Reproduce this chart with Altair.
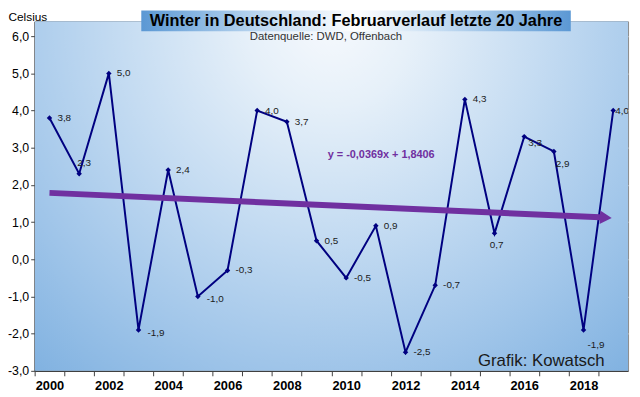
import altair as alt
import pandas as pd

# ---- data ----
years = list(range(2000, 2020))
values = [3.8, 2.3, 5.0, -1.9, 2.4, -1.0, -0.3, 4.0, 3.7, 0.5,
          -0.5, 0.9, -2.5, -0.7, 4.3, 0.7, 3.3, 2.9, -1.9, 4.0]
y_ticks = [-3, -2, -1, 0, 1, 2, 3, 4, 5, 6]
title_text = "Winter in Deutschland: Februarverlauf letzte 20 Jahre"
source_text = "Datenquelle: DWD, Offenbach"
credit_text = "Grafik: Kowatsch"
equation_text = "y = -0,0369x + 1,8406"
y_title = "Celsius"

df = pd.DataFrame({"year": years, "value": values})

W, H = 601, 354
FONT = "Liberation Sans, Arial, sans-serif"
X_DOM = [1999.5, 2019.5]
Y_DOM = [-3, 6.4]
FMT = "replace(replace(format({v}, '.1f'), '.', ','), '\u2212', '-')"

xs = alt.Scale(domain=X_DOM, nice=False, zero=False)
ys = alt.Scale(domain=Y_DOM, nice=False, zero=False)

X_ENC = alt.X("year:Q", scale=xs, axis=alt.Axis(
    values=years, title=None, grid=False,
    labelExpr="datum.value % 2 == 0 ? datum.value : ''",
    tickOffset=-W / 40.0, labelOffset=W / 40.0, tickSize=5, tickColor="#404040",
    domainColor="#404040", domainWidth=1.5, labelOverlap=False, labelFlush=False,
    labelFont=FONT, labelFontSize=13, labelFontWeight="bold",
    labelColor="#000000", labelPadding=4))
Y_ENC = alt.Y("value:Q", scale=ys, axis=alt.Axis(
    values=y_ticks, tickCount=10, title=y_title, titleAngle=0, titleAlign="left",
    titleBaseline="top", titleX=-27, titleY=-10,
    titleFont=FONT, titleFontSize=12, titleFontWeight="normal", titleColor="#000000",
    labelExpr=FMT.format(v="datum.value"), labelOverlap=False, labelFlush=False,
    labelFont=FONT, labelFontSize=12.5, labelColor="#000000", labelPadding=2,
    tickSize=4, tickColor="#404040", domainColor="#404040", domainWidth=1.5,
    grid=True, gridColor="#dcdcdc", gridOpacity=0.85, gridWidth=1.2))

one = pd.DataFrame({"a": [0]})

# background gradient of plot area
bg_grad = alt.RadialGradient(
    gradient="radial", x1=0.5, y1=0.0, r1=0.0, x2=0.5, y2=0.0, r2=1.0,
    stops=[
        alt.GradientStop(offset=0.0, color="#f6f9fd"),
        alt.GradientStop(offset=0.08, color="#e6f0f9"),
        alt.GradientStop(offset=0.2, color="#c5dcf2"),
        alt.GradientStop(offset=0.32, color="#a3c7ea"),
        alt.GradientStop(offset=0.42, color="#86b5e2"),
        alt.GradientStop(offset=0.5, color="#6fa6db"),
        alt.GradientStop(offset=1.0, color="#68a0d8"),
    ],
)
background = alt.Chart(one).mark_rect(fill=bg_grad, clip=True).encode(
    x=alt.value(0), x2=alt.value(W), y=alt.value(0), y2=alt.value(H * 3)
)

base = alt.Chart(df).encode(x=X_ENC, y=Y_ENC)

line = base.mark_line(color="#000080", strokeWidth=2)
pts = base.mark_point(shape="diamond", filled=True, size=30, color="#000080", opacity=1)

trend = alt.Chart(df).transform_regression(
    "year", "value", extent=[2000, 2018.75]
).mark_line(color="#7030A0", strokeWidth=6, strokeCap="butt").encode(x=X_ENC, y=Y_ENC)
arrow = alt.Chart(df).transform_regression(
    "year", "value", extent=[2000, 2018.75]
).transform_filter("datum.year > 2018").mark_point(
    shape="triangle-right", filled=True, size=190, color="#7030A0", opacity=1, angle=3
).encode(x=X_ENC, y=Y_ENC)

# value labels
shifts = {
    (8, 0): None,
    (-2, -11): [2001],
    (9, 3): [2003, 2005],
    (2, 12): [2015],
    (4, 7): [2016],
    (2, 13): [2017],
    (4, 15): [2018],
    (2, 0): [2019],
}
special = [y for v in shifts.values() if v for y in v]
label_layers = []
for (dx, dy), yrs in shifts.items():
    c = base.transform_calculate(lbl=FMT.format(v="datum.value"))
    if yrs is None:
        c = c.transform_filter(alt.FieldOneOfPredicate(field="year", oneOf=[y for y in years if y not in special]))
    else:
        c = c.transform_filter(alt.FieldOneOfPredicate(field="year", oneOf=yrs))
    label_layers.append(c.mark_text(
        align="center" if yrs == [2015] else "left", baseline="middle", dx=dx, dy=dy,
        font=FONT, fontSize=10, color="#1a1a1a", clip=True
    ).encode(text="lbl:N"))

# title box and annotations
title_grad = alt.LinearGradient(
    gradient="linear", x1=0, y1=0, x2=1, y2=0,
    stops=[
        alt.GradientStop(offset=0.0, color="#5b98d4"),
        alt.GradientStop(offset=0.3, color="#c4dcf2"),
        alt.GradientStop(offset=0.5, color="#ffffff"),
        alt.GradientStop(offset=0.7, color="#c4dcf2"),
        alt.GradientStop(offset=1.0, color="#5b98d4"),
    ],
)
title_box = alt.Chart(one).mark_rect(fill=title_grad).encode(
    x=alt.value(108), x2=alt.value(543), y=alt.value(-11), y2=alt.value(10)
)
title = alt.Chart(one).transform_calculate(t=f"'{title_text}'").mark_text(
    font=FONT, fontSize=16.5, fontWeight="bold", color="#000000", align="center", baseline="middle"
).encode(x=alt.value(325.5), y=alt.value(-0.5), text="t:N")
source = alt.Chart(one).transform_calculate(t=f"'{source_text}'").mark_text(
    font=FONT, fontSize=11.5, color="#333333", align="center", baseline="middle"
).encode(x=alt.value(295), y=alt.value(16), text="t:N")
credit = alt.Chart(one).transform_calculate(t=f"'{credit_text}'").mark_text(
    font=FONT, fontSize=17, color="#1a1a1a", align="left", baseline="middle"
).encode(x=alt.value(449), y=alt.value(344), text="t:N")
equation = alt.Chart(one).transform_calculate(t=f"'{equation_text}'").mark_text(
    font=FONT, fontSize=11, fontWeight="bold", color="#7030A0", align="center", baseline="middle"
).encode(x=alt.value(351), y=alt.value(135), text="t:N")

chart = alt.layer(
    background, line, pts, *label_layers, trend, arrow, equation, credit,
    title_box, title, source,
).properties(
    width=W, height=H,
    autosize=alt.AutoSizeParams(type="none"),
    padding={"left": 27, "top": 11, "right": 4, "bottom": 24},
    background="#ffffff",
).configure_view(stroke="#8a8a8a", strokeWidth=1)

chart.save("out.html", embed_options={"renderer": "svg", "actions": False})
